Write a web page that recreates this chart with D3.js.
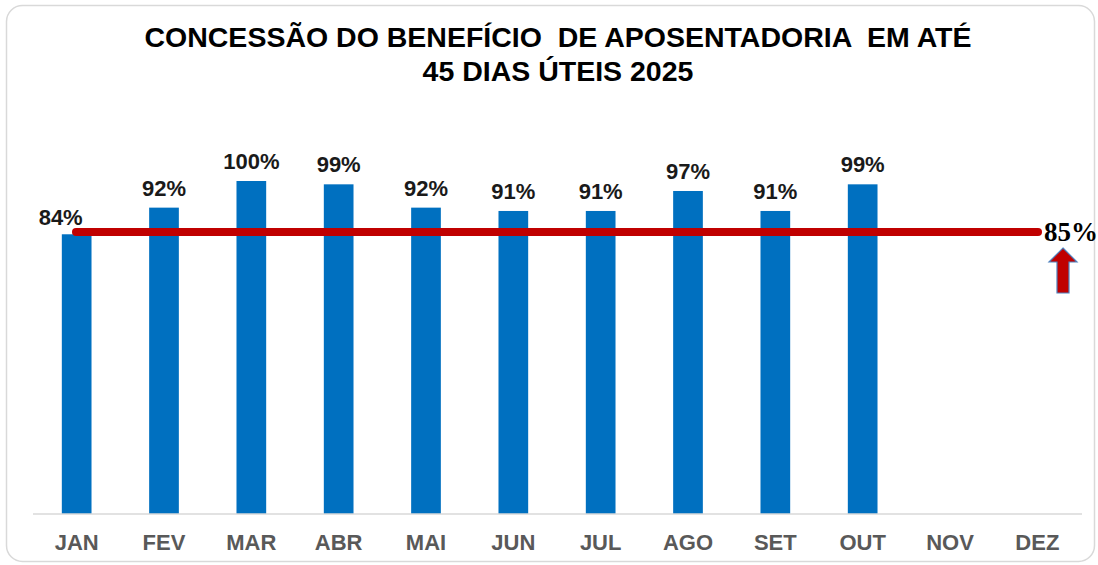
<!DOCTYPE html>
<html>
<head>
<meta charset="utf-8">
<script src="https://cdn.jsdelivr.net/npm/d3@7"></script>
<style>
  body { margin: 0; background: #fff; }
  text { font-family: "Liberation Sans", Arial, sans-serif; }
</style>
</head>
<body>
<div id="chart"></div>
<script>
// Data
var months = ['JAN', 'FEV', 'MAR', 'ABR', 'MAI', 'JUN', 'JUL', 'AGO', 'SET', 'OUT', 'NOV', 'DEZ'];
var values = [84, 92, 100, 99, 92, 91, 91, 97, 91, 99, null, null];
var target = 85;
var titleLines = ['CONCESSÃO DO BENEFÍCIO  DE APOSENTADORIA  EM ATÉ', '45 DIAS ÚTEIS 2025'];

var width = 1098;
var height = 565;

var svg = d3.select('#chart')
  .append('svg')
  .attr('width', width)
  .attr('height', height);

// frame
svg.append('rect')
  .attr('x', 6.5).attr('y', 5.5)
  .attr('width', 1088).attr('height', 556)
  .attr('rx', 16)
  .attr('fill', '#fff')
  .attr('stroke', '#d9d9d9')
  .attr('stroke-width', 1.5);

// title
svg.append('text')
  .attr('x', 558)
  .attr('y', 47)
  .attr('text-anchor', 'middle')
  .style('font-size', '28.5px')
  .style('font-weight', 'bold')
  .attr('fill', '#000')
  .selectAll('tspan')
  .data(titleLines)
  .enter()
  .append('tspan')
  .attr('x', 558)
  .attr('dy', (d, i) => i === 0 ? 0 : 34)
  .attr('xml:space', 'preserve')
  .text(d => d);

// scales
const xScale = d3.scaleBand()
  .domain(months)
  .range([33, 1081])
  .paddingInner(0.66)
  .paddingOuter(0.33);

const yScale = d3.scaleLinear()
  .domain([0, 100])
  .range([514, 181]);

// bars
const data = months.map((m, i) => ({ month: m, value: values[i] }))
  .filter(d => d.value != null);

svg.selectAll('rect.bar')
  .data(data)
  .enter()
  .append('rect')
  .attr('class', 'bar')
  .attr('x', d => xScale(d.month))
  .attr('y', d => yScale(d.value))
  .attr('width', xScale.bandwidth())
  .attr('height', d => yScale(0) - yScale(d.value))
  .attr('fill', '#0070c0');

// x axis
const xAxis = svg.append('g')
  .attr('transform', 'translate(0,514)')
  .call(d3.axisBottom(xScale).tickSize(0).tickPadding(20));
xAxis.select('.domain')
  .attr('d', 'M33,0H1082')
  .attr('stroke', '#d9d9d9')
  .attr('stroke-width', 1.5);
xAxis.selectAll('text')
  .style('font-size', '22px')
  .style('font-weight', 'bold')
  .style('font-family', '"Liberation Sans", Arial, sans-serif')
  .attr('fill', '#595959');

// target line
svg.append('line')
  .attr('x1', 76)
  .attr('x2', 1038)
  .attr('y1', yScale(target) + 1)
  .attr('y2', yScale(target) + 1)
  .attr('stroke', '#c00000')
  .attr('stroke-width', 8)
  .attr('stroke-linecap', 'round');

// value labels
svg.selectAll('text.label')
  .data(data)
  .enter()
  .append('text')
  .attr('class', 'label')
  .attr('x', (d, i) => xScale(d.month) + xScale.bandwidth() / 2 + (i === 0 ? -16 : 0))
  .attr('y', (d, i) => yScale(d.value) - (i === 0 ? 9 : 12))
  .attr('text-anchor', 'middle')
  .style('font-size', '22px')
  .style('font-weight', 'bold')
  .attr('fill', '#1a1a1a')
  .text(d => d.value + '%');

// target label + arrow
svg.append('text')
  .attr('x', 1044)
  .attr('y', 241)
  .style('font-family', '"Liberation Serif", "Times New Roman", serif')
  .style('font-size', '27px')
  .style('font-weight', 'bold')
  .attr('fill', '#000')
  .text(target + '%');

const ax = 1063, ay = 248;
svg.append('path')
  .attr('d', `M${ax},${ay} L${ax + 14},${ay + 14} L${ax + 6},${ay + 14} L${ax + 6},${ay + 45} L${ax - 6},${ay + 45} L${ax - 6},${ay + 14} L${ax - 14},${ay + 14} Z`)
  .attr('fill', '#c00000')
  .attr('stroke', '#4f81bd')
  .attr('stroke-width', 1.2);
</script>
</body>
</html>
